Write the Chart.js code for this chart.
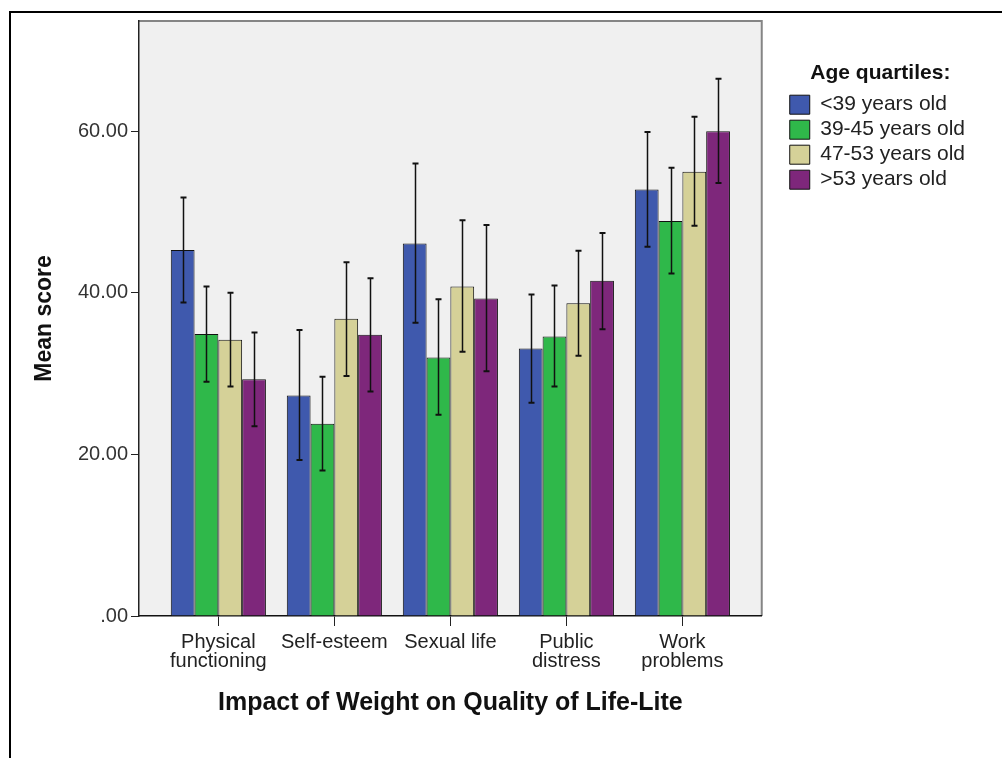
<!DOCTYPE html>
<html>
<head>
<meta charset="utf-8">
<title>IWQOL-Lite by age quartile</title>
<script src="https://cdn.jsdelivr.net/npm/chart.js@4"></script>
<style>
  html, body { margin: 0; padding: 0; background: #fff; overflow: hidden; }
  #wrap { position: relative; width: 1002px; height: 758px; }
</style>
</head>
<body>
<div id="wrap"><canvas id="qolChart" width="1002" height="758"></canvas></div>
<script>
// IWQOL-Lite domains (x axis) and age quartile groups (bars)
const categories = [['Physical', 'functioning'], 'Self-esteem', 'Sexual life', ['Public', 'distress'], ['Work', 'problems']];
const ageGroups = ['<39 years old', '39-45 years old', '47-53 years old', '>53 years old'];
const groupColors = ['#3f59ad', '#2fb84a', '#d5d198', '#7e277b'];

// mean scores per age group
const meanUnder39 = [45.3, 27.3, 46.1, 33.1, 52.8];
const mean39to45 = [34.9, 23.8, 32.0, 34.6, 48.9];
const mean47to53 = [34.2, 36.8, 40.8, 38.7, 55.0];
const meanOver53 = [29.3, 34.8, 39.3, 41.5, 60.0];

// error bar ends (lower / upper) per age group
const lowUnder39 = [38.8, 19.3, 36.3, 26.4, 45.7];
const highUnder39 = [51.8, 35.4, 56.0, 39.8, 59.9];
const low39to45 = [29.0, 18.0, 24.9, 28.4, 42.4];
const high39to45 = [40.8, 29.6, 39.2, 40.9, 55.5];
const low47to53 = [28.4, 29.7, 32.7, 32.2, 48.3];
const high47to53 = [40.0, 43.8, 49.0, 45.2, 61.8];
const lowOver53 = [23.5, 27.8, 30.3, 35.5, 53.6];
const highOver53 = [35.1, 41.8, 48.4, 47.4, 66.5];

const yTicks = [0, 20, 40, 60];

const means = [meanUnder39, mean39to45, mean47to53, meanOver53];
const lows = [lowUnder39, low39to45, low47to53, lowOver53];
const highs = [highUnder39, high39to45, high47to53, highOver53];

const FONT = '"Liberation Sans", Arial, sans-serif';

// grey plot panel plus the outer frame lines
const panelPlugin = {
  id: 'panel',
  beforeDraw(chart) {
    const { ctx, chartArea: a } = chart;
    ctx.save();
    ctx.fillStyle = '#000';
    ctx.fillRect(9, 11, 2, 760);
    ctx.fillRect(9, 11, 1000, 2);
    ctx.fillStyle = '#f0f0f0';
    ctx.fillRect(a.left, a.top, a.right - a.left, a.bottom - a.top);
    ctx.strokeStyle = '#858585';
    ctx.lineWidth = 2;
    ctx.beginPath();
    ctx.moveTo(a.left, a.top);
    ctx.lineTo(a.right, a.top);
    ctx.lineTo(a.right, a.bottom);
    ctx.stroke();
    ctx.restore();
  }
};

// whiskers drawn on top of each bar
const errorBarPlugin = {
  id: 'errorBars',
  afterDatasetsDraw(chart) {
    const { ctx } = chart;
    const yScale = chart.scales.y;
    ctx.save();
    ctx.strokeStyle = '#111';
    chart.data.datasets.forEach((ds, i) => {
      const meta = chart.getDatasetMeta(i);
      meta.data.forEach((bar, j) => {
        const x = Math.round(bar.x) + 0.5;
        const yHi = yScale.getPixelForValue(highs[i][j]);
        const yLo = yScale.getPixelForValue(lows[i][j]);
        ctx.lineWidth = 1.5;
        ctx.beginPath();
        ctx.moveTo(x, yHi);
        ctx.lineTo(x, yLo);
        ctx.stroke();
        ctx.lineWidth = 2;
        ctx.beginPath();
        ctx.moveTo(x - 3, yHi);
        ctx.lineTo(x + 3, yHi);
        ctx.moveTo(x - 3, yLo);
        ctx.lineTo(x + 3, yLo);
        ctx.stroke();
      });
    });
    ctx.restore();
  }
};

const ctx = document.getElementById('qolChart').getContext('2d');
new Chart(ctx, {
  type: 'bar',
  data: {
    datasets: ageGroups.map((name, i) => ({
      label: name,
      data: means[i].map((v, j) => ({ x: j, y: v })),
      backgroundColor: groupColors[i],
      borderColor: '#111',
      borderWidth: 1,
      categoryPercentage: 0.82,
      barPercentage: 1.0
    }))
  },
  options: {
    responsive: false,
    animation: false,
    layout: { padding: { top: 21, left: 12, right: 27, bottom: 0 } },
    plugins: {
      tooltip: { enabled: false },
      legend: {
        position: 'right',
        align: 'start',
        maxWidth: 220,
        title: {
          display: true,
          text: 'Age quartiles:',
          color: '#111',
          font: { family: FONT, size: 21, weight: 'bold' },
          padding: { top: 42, bottom: 2 }
        },
        labels: {
          boxWidth: 20,
          boxHeight: 19,
          padding: 4,
          color: '#222',
          font: { family: FONT, size: 21 }
        }
      }
    },
    scales: {
      x: {
        type: 'linear',
        min: -0.684,
        max: 4.684,
        offset: false,
        grid: { display: true, drawOnChartArea: false, drawTicks: true, tickLength: 10, color: '#222', offset: false },
        border: { display: true, color: '#111', width: 1.5 },
        afterBuildTicks(scale) {
          scale.ticks = categories.map((_, i) => ({ value: i }));
        },
        afterFit(scale) { scale.height = 142; },
        ticks: {
          autoSkip: false,
          maxRotation: 0,
          padding: 7,
          color: '#222',
          font: { family: FONT, size: 20, lineHeight: '19px' },
          callback: (v) => categories[v]
        },
        title: {
          display: true,
          text: 'Impact of Weight on Quality of Life-Lite',
          color: '#111',
          font: { family: FONT, size: 25, weight: 'bold' },
          padding: { top: 0, bottom: 40 }
        }
      },
      y: {
        min: 0,
        max: 73.65,
        grid: { drawOnChartArea: false, drawTicks: true, tickLength: 8, color: '#222' },
        border: { display: true, color: '#222', width: 1.5 },
        afterBuildTicks(scale) {
          scale.ticks = yTicks.map(v => ({ value: v }));
        },
        afterFit(scale) { scale.width = 127; },
        ticks: {
          padding: 3,
          color: '#333',
          font: { family: FONT, size: 20 },
          callback: (v) => v === 0 ? '.00' : v.toFixed(2)
        },
        title: {
          display: true,
          text: 'Mean score',
          color: '#111',
          font: { family: FONT, size: 23, weight: 'bold' },
          padding: { top: 19, bottom: 0 }
        }
      },
      // empty spacer between the plot panel and the legend
      gap: {
        position: 'right',
        display: true,
        grid: { display: false },
        border: { display: false },
        ticks: { display: false },
        afterFit(scale) { scale.width = 24; }
      }
    }
  },
  plugins: [panelPlugin, errorBarPlugin]
});
</script>
</body>
</html>
